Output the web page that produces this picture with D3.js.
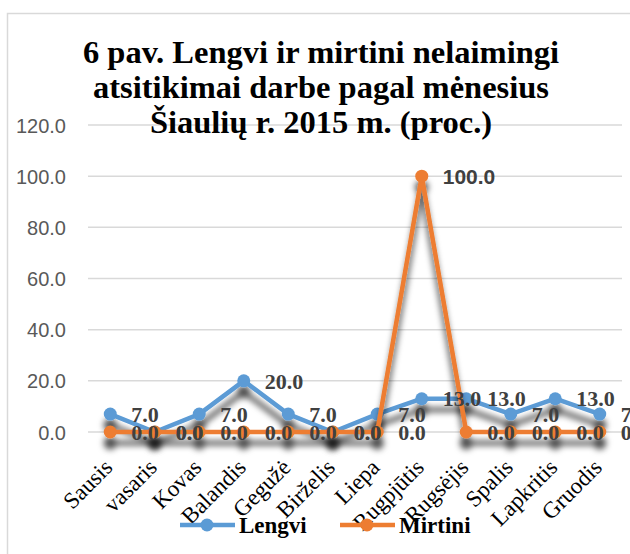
<!DOCTYPE html>
<html lang="lt">
<head>
<meta charset="utf-8">
<title>6 pav.</title>
<script src="https://d3js.org/d3.v7.min.js"></script>
<style>
  body { margin: 0; background: #fff; }
  svg { display: block; }
</style>
</head>
<body>
<svg id="chart" width="630" height="554"></svg>
<script>
// data
var months = ["Sausis", "vasaris", "Kovas", "Balandis", "Gegužė", "Birželis",
              "Liepa", "Rugpjūtis", "Rugsėjis", "Spalis", "Lapkritis", "Gruodis"];
var lengvi = [7, 0, 7, 20, 7, 0, 7, 13, 13, 7, 13, 7];
var mirtini = [0, 0, 0, 0, 0, 0, 0, 100, 0, 0, 0, 0];
var yTicks = [0, 20, 40, 60, 80, 100, 120];
var titleLines = ["6 pav. Lengvi ir mirtini nelaimingi",
                  "atsitikimai darbe pagal mėnesius",
                  "Šiaulių r. 2015 m. (proc.)"];
var seriesNames = ["Lengvi", "Mirtini"];
var colors = ["#5b9bd5", "#ed7d31"];

var serif = "Liberation Serif, Times New Roman, serif";
var sans = "Liberation Sans, Arial, sans-serif";

var svg = d3.select("#chart");

// drop shadow like the office chart
var defs = svg.append("defs");
var f = defs.append("filter").attr("id", "shadow")
  .attr("x", "-50%").attr("y", "-50%").attr("width", "200%").attr("height", "200%");
f.append("feDropShadow").attr("dx", 0).attr("dy", 11).attr("stdDeviation", 3)
  .attr("flood-color", "#000").attr("flood-opacity", 0.7);

// outer frame
svg.append("rect").attr("x", 7.5).attr("y", 13.5).attr("width", 640).attr("height", 560)
  .attr("fill", "none").attr("stroke", "#d9d9d9").attr("stroke-width", 1.5);

var x = d3.scaleBand().domain(months).range([88, 622]);
var y = d3.scaleLinear().domain([0, 120]).range([432, 125]);

// grid
svg.append("g").selectAll("line").data(yTicks).enter().append("line")
  .attr("x1", 88).attr("x2", 622)
  .attr("y1", function(d) { return y(d); }).attr("y2", function(d) { return y(d); })
  .attr("stroke", "#d9d9d9").attr("stroke-width", 1.5);

// y axis labels
var yAxis = svg.append("g").attr("transform", "translate(70,0)")
  .call(d3.axisLeft(y).tickValues(yTicks).tickSize(0).tickFormat(d3.format(".1f")));
yAxis.select(".domain").remove();
yAxis.selectAll("text").attr("font-family", sans)
  .attr("font-size", 20).attr("fill", "#595959").attr("x", -4).attr("dy", "0.35em");

// x axis labels
var xAxis = svg.append("g").attr("transform", "translate(-2,463)")
  .call(d3.axisBottom(x).tickSize(0));
xAxis.select(".domain").remove();
xAxis.selectAll("text")
  .attr("font-family", serif)
  .attr("font-size", 23).attr("fill", "#000")
  .attr("text-anchor", "end").attr("dy", "0.35em").attr("y", 0)
  .attr("transform", "rotate(-45)");

// title
svg.append("g").selectAll("text").data(titleLines).enter().append("text")
  .attr("x", 321).attr("y", function(d, i) { return 63 + i * 35; })
  .attr("text-anchor", "middle")
  .attr("font-family", serif)
  .attr("font-weight", "bold").attr("font-size", 32.5).attr("fill", "#000")
  .text(function(d) { return d; });

var cx = function(d, i) { return x(months[i]) + x.bandwidth() / 2; };
var line = d3.line().x(cx).y(function(d) { return y(d); });

[lengvi, mirtini].forEach(function(vals, s) {
  var g = svg.append("g").attr("filter", "url(#shadow)");
  g.append("path").datum(vals).attr("d", line).attr("fill", "none")
    .attr("stroke", colors[s]).attr("stroke-width", 4.5).attr("stroke-linejoin", "round");
  g.selectAll("circle").data(vals).enter().append("circle")
    .attr("cx", cx).attr("cy", function(d) { return y(d); }).attr("r", 6.5)
    .attr("fill", colors[s]);
});

// data labels
[lengvi, mirtini].forEach(function(vals, s) {
  svg.append("g").selectAll("text").data(vals).enter().append("text")
    .attr("x", function(d, i) { return cx(d, i) + 21; })
    .attr("y", function(d) { return y(d); }).attr("dy", "0.35em")
    .attr("font-family", function(d) { return d >= 100 ? sans : serif; })
    .attr("font-weight", "bold").attr("font-size", function(d) { return d >= 100 ? 21 : 22; })
    .attr("fill", "#404040")
    .text(function(d) { return d3.format(".1f")(d); });
});

// legend
var legX = [180, 340];
seriesNames.forEach(function(name, s) {
  var g = svg.append("g").attr("transform", "translate(" + legX[s] + ",525)");
  g.append("line").attr("x1", 0).attr("x2", 55).attr("stroke", colors[s]).attr("stroke-width", 4.5);
  g.append("circle").attr("cx", 27).attr("r", 6.5).attr("fill", colors[s]);
  g.append("text").attr("x", 59).attr("dy", "0.35em")
    .attr("font-family", serif)
    .attr("font-weight", "bold").attr("font-size", 23).attr("fill", "#000").text(name);
});
</script>
</body>
</html>
